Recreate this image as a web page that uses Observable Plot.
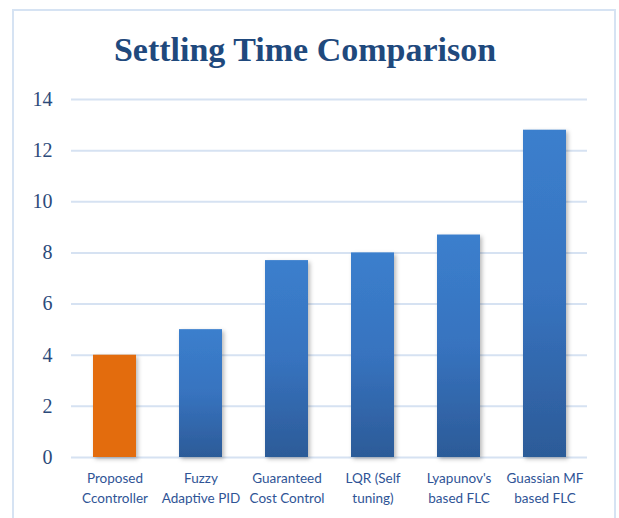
<!DOCTYPE html>
<html>
<head>
<meta charset="utf-8">
<script src="https://cdn.jsdelivr.net/npm/d3@7"></script>
<script src="https://cdn.jsdelivr.net/npm/@observablehq/plot@0.6"></script>
<style>
  html, body { margin: 0; padding: 0; background: #fff; width: 619px; height: 518px; overflow: hidden; }
  #frame { position: absolute; left: 12px; top: 9px; width: 604px; height: 530px; border: 2px solid #d6e3f3; box-sizing: border-box; }
  #title { position: absolute; left: 0; top: 31px; width: 610px; text-align: center;
           font-family: "Liberation Serif", "DejaVu Serif", serif; font-weight: bold; font-size: 34px; color: #1f497d; }
  #chart { position: absolute; left: 0; top: 0; }
</style>
</head>
<body>
<div id="frame"></div>
<div id="title">Settling Time Comparison</div>
<div id="chart"></div>
<script>
const categories = ["Proposed\nCcontroller", "Fuzzy\nAdaptive PID", "Guaranteed\nCost Control", "LQR (Self\ntuning)", "Lyapunov's\nbased FLC", "Guassian MF\nbased FLC"];
const values = [4, 5, 7.7, 8.0, 8.7, 12.8];
const yTicks = [0, 2, 4, 6, 8, 10, 12, 14];
const highlight = "Proposed\nCcontroller";

const data = categories.map((c, i) => ({name: c, value: values[i]}));

const plot = Plot.plot({
  width: 619,
  height: 518,
  marginLeft: 71,
  marginRight: 32,
  marginTop: 99,
  marginBottom: 61,
  style: {background: "transparent", overflow: "visible"},
  x: {domain: categories, paddingInner: 0.5, paddingOuter: 0.25, axis: null},
  y: {domain: [0, 14], axis: null},
  color: {type: "identity"},
  marks: [
    Plot.ruleY(yTicks, {stroke: "#d6e2f2", strokeWidth: 2}),
    Plot.text(yTicks, {
      y: d => d, text: d => String(d), frameAnchor: "left",
      dx: -19, textAnchor: "end", fontSize: 20, fill: "#2b4a7a"
    }),
    Plot.barY(data, {
      x: "name", y: "value",
      fill: d => d.name === highlight ? "#e36c0a" : "url(#barGrad)"
    }),
    Plot.text(data, {
      x: "name", y: 0, text: "name", lineAnchor: "top", dy: 12, lineHeight: 1.45,
      fontSize: 13.5, fill: "#2f5496"
    })
  ]
});

const ns = "http://www.w3.org/2000/svg";
const defs = document.createElementNS(ns, "defs");
defs.innerHTML = `
  <linearGradient id="barGrad" x1="0" y1="0" x2="0" y2="1">
    <stop offset="0" stop-color="#3b7fcd"/>
    <stop offset="0.5" stop-color="#3773bf"/>
    <stop offset="1" stop-color="#2c5b98"/>
  </linearGradient>
  <filter id="shadow" x="-30%" y="-10%" width="160%" height="125%">
    <feDropShadow dx="2" dy="2" stdDeviation="2.2" flood-color="#000" flood-opacity="0.28"/>
  </filter>`;
plot.insertBefore(defs, plot.firstChild);
plot.querySelectorAll('g[aria-label="bar"] rect').forEach(r => r.setAttribute("filter", "url(#shadow)"));
const groups = plot.querySelectorAll('g[aria-label="text"]');
const fams = ["'Liberation Serif', 'DejaVu Serif', serif", "Lato, Carlito, 'Liberation Sans', sans-serif"];
groups.forEach((g, i) => {
  const fam = fams[Math.min(i, 1)];
  g.style.fontFamily = fam;
  g.querySelectorAll("text, tspan").forEach(t => t.style.fontFamily = fam);
});

document.getElementById("chart").appendChild(plot);
</script>
</body>
</html>
